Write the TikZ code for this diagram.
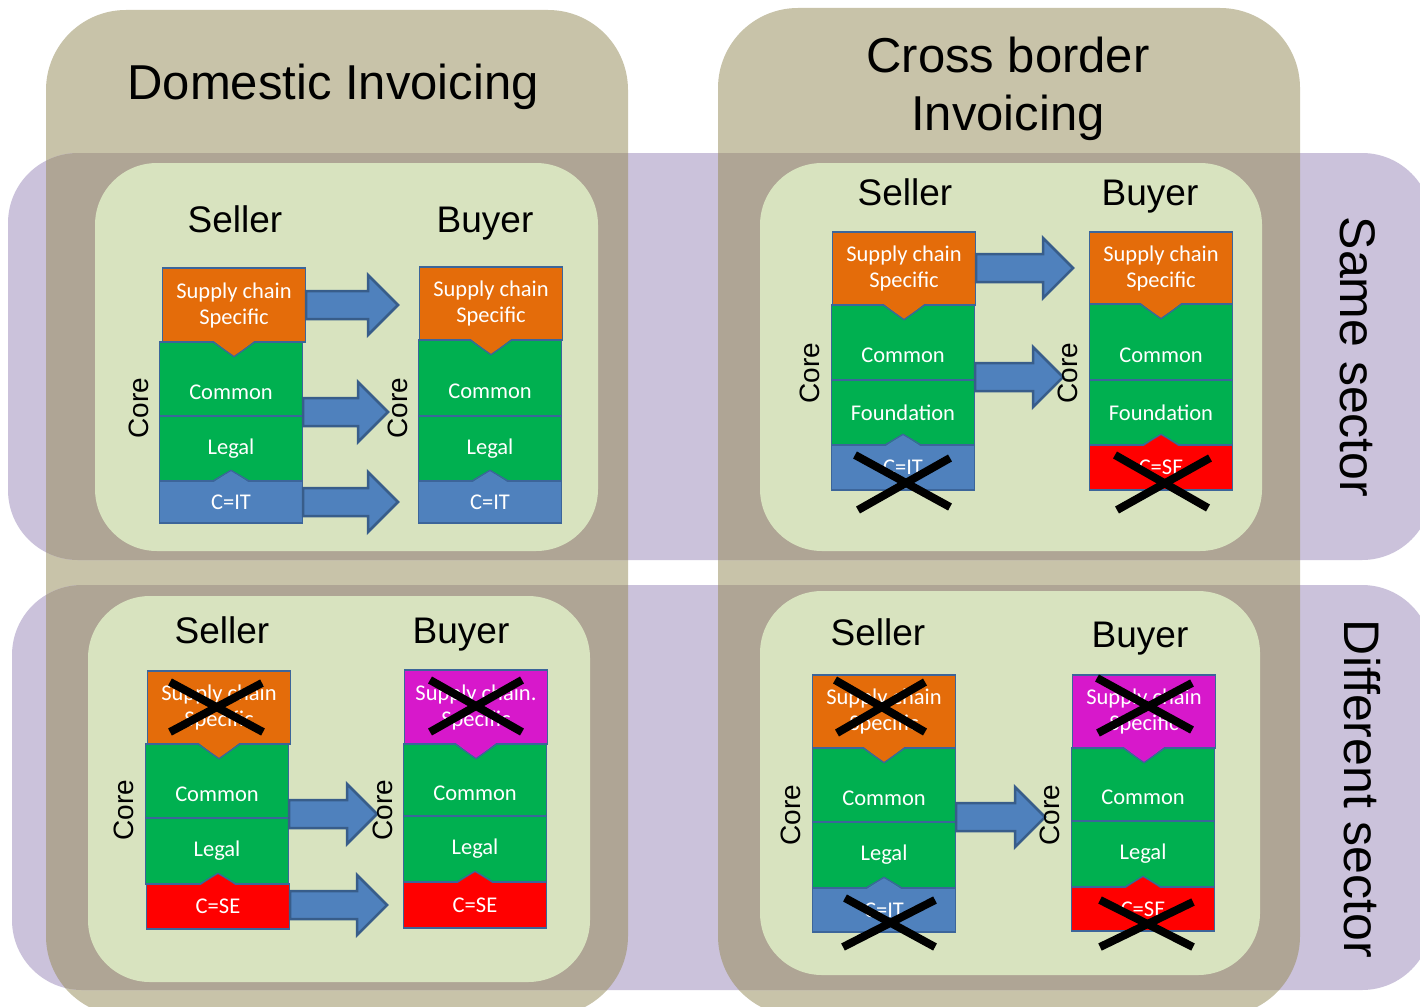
\documentclass[tikz,border=0pt]{standalone}
\usepackage{fontspec}
\setmainfont{Liberation Sans}
\newfontfamily\calib{Carlito}
\usetikzlibrary{calc}
\definecolor{tanC}{HTML}{C8C3A9}
\definecolor{purC}{HTML}{CBC2DB}
\definecolor{ovC}{HTML}{AFA595}
\definecolor{panC}{HTML}{D8E3BF}
\definecolor{orC}{HTML}{E46C0A}
\definecolor{grC}{HTML}{00B050}
\definecolor{blC}{HTML}{4F81BD}
\definecolor{rdC}{HTML}{FF0000}
\definecolor{mgC}{HTML}{D718CB}
\definecolor{bdC}{HTML}{3C659A}
\definecolor{arB}{HTML}{385D8A}
\newcommand\TabDown[2]{%
  \fill[#2] ($(#1.south)+(-20,-1.5)$) -- ($(#1.south)+(0,14)$) -- ($(#1.south)+(20,-1.5)$) -- cycle;
  \draw[bdC,line width=1.3pt] ($(#1.south)+(-20,0)$) -- ($(#1.south)+(0,14)$) -- ($(#1.south)+(20,0)$);}
\newcommand\TabUp[2]{%
  \fill[#2] ($(#1.north)+(-17,1.5)$) -- ($(#1.north)+(0,-10)$) -- ($(#1.north)+(17,1.5)$) -- cycle;
  \draw[bdC,line width=1.3pt] ($(#1.north)+(-17,0)$) -- ($(#1.north)+(0,-10)$) -- ($(#1.north)+(17,0)$);}
\newcommand\BlkArr[2]{%
  \draw[barrow] ($(#1)+(0,-14)$) -- ($(#2)+(-30,-14)$) -- ($(#2)+(-30,-30)$) -- (#2)
     -- ($(#2)+(-30,30)$) -- ($(#2)+(-30,14)$) -- ($(#1)+(0,14)$) -- cycle;}
\newcommand\LowTxt[1]{\raisebox{-13pt}[\height][\depth]{#1}}
\begin{document}
\begin{tikzpicture}[x=1pt,y=-1pt,
  blk/.style={draw=bdC, line width=1.3pt, minimum width=143pt, inner sep=0pt,
    text=white, font=\calib\fontsize{22.5}{26}\selectfont, align=center},
  gbox/.style={blk, fill=grC},
  obox/.style={blk, fill=orC},
  mbox/.style={blk, fill=mgC},
  bbox/.style={blk, fill=blC},
  rbox/.style={blk, fill=rdC},
  role/.style={anchor=base, font=\fontsize{37}{40}\selectfont},
  corelbl/.style={rotate=90, font=\fontsize{28}{30}\selectfont},
  sector/.style={rotate=-90, font=\fontsize{50}{54}\selectfont},
  barrow/.style={draw=arB, fill=blC, line width=2.5pt, line join=miter},
  xline/.style={black, line width=8pt},
  panel/.style={fill=panC, rounded corners=62pt}
]
\useasboundingbox (0,0) rectangle (1420,1006);
\fill[white] (0,0) rectangle (1420,1006);
% background columns and bands
\fill[tanC, rounded corners=80pt] (46,10) rectangle (628,1016);
\fill[tanC, rounded corners=80pt] (718,8) rectangle (1300,1016);
\fill[purC, rounded corners=70pt] (8,153) rectangle (1432,560);
\fill[purC, rounded corners=70pt] (12,585) rectangle (1432,990);
\begin{scope}
  \clip[rounded corners=80pt] (46,10) rectangle (628,1016) (718,8) rectangle (1300,1016);
  \fill[ovC, rounded corners=70pt] (8,153) rectangle (1432,560) (12,585) rectangle (1432,990);
\end{scope}
% inner panels
\fill[panel] (95,163) rectangle (598,551);
\fill[panel] (760,163) rectangle (1262,551);
\fill[panel] (88,596) rectangle (590,982);
\fill[panel] (760,591) rectangle (1260,975);
% titles
\node[anchor=base, font=\fontsize{49}{58}\selectfont] (tdom) at (333,100) {Domestic Invoicing};
\node[font=\fontsize{49}{58}\selectfont, align=center] (tcross) at (1008,89) {Cross border\\Invoicing};
\node[sector] (tsame) at (1358,357) {Same sector};
\node[sector] (tdiff) at (1362,789) {Different sector};
% role labels
\node[role] (tlS) at (235,232) {Seller};
\node[role] (tlB) at (485,232) {Buyer};
\node[role] (trS) at (905,205) {Seller};
\node[role] (trB) at (1150,205) {Buyer};
\node[role] (blS) at (222,643) {Seller};
\node[role] (blB) at (461,643) {Buyer};
\node[role] (brS) at (878,645) {Seller};
\node[role] (brB) at (1140,647) {Buyer};
% ---------- TL panel ----------
\node[gbox, minimum height=74pt] (tlsc) at (231,379) {\LowTxt{Common}};
\node[gbox, minimum height=65pt] (tlsl) at (231,448.5) {Legal};
\node[obox, minimum height=74pt] (tlso) at (234,305) {Supply chain\\Specific};
\node[bbox, minimum height=42pt] (tlsb) at (231,502) {C=IT};
\node[gbox, minimum height=76pt] (tlbc) at (490,378) {\LowTxt{Common}};
\node[gbox, minimum height=65pt] (tlbl) at (490,448.5) {Legal};
\node[obox, minimum height=73pt] (tlbo) at (491,303.5) {Supply chain\\Specific};
\node[bbox, minimum height=42pt] (tlbb) at (490,502) {C=IT};
\TabDown{tlso}{orC}\TabDown{tlbo}{orC}
\TabUp{tlsb}{blC}\TabUp{tlbb}{blC}
\coordinate (tlA1) at (398,305);
\coordinate (tlA2) at (388,412);
\coordinate (tlA3) at (398,502);
\BlkArr{tlso.east |- tlA1}{tlA1}
\BlkArr{tlsc.east |- tlA2}{tlA2}
\BlkArr{tlsb.east |- tlA3}{tlA3}
\node[corelbl] (tlcs) at (139,408) {Core};
\node[corelbl] (tlcb) at (398,408) {Core};
% ---------- TR panel ----------
\node[gbox, minimum height=75pt] (trsc) at (903,342.5) {\LowTxt{Common}};
\node[gbox, minimum height=65pt] (trsf) at (903,412.5) {Foundation};
\node[obox, minimum height=73pt] (trso) at (904,268.5) {Supply chain\\Specific};
\node[bbox, minimum height=45pt] (trsb) at (903,467.5) {C=IT};
\node[gbox, minimum height=76pt] (trbc) at (1161,342) {\LowTxt{Common}};
\node[gbox, minimum height=65pt] (trbf) at (1161,412.5) {Foundation};
\node[obox, minimum height=72pt] (trbo) at (1161,268) {Supply chain\\Specific};
\node[rbox, minimum height=45pt] (trbb) at (1161,467.5) {C=SE};
\TabDown{trso}{orC}\TabDown{trbo}{orC}
\TabUp{trsb}{blC}\TabUp{trbb}{rdC}
\coordinate (trA1) at (1073,268);
\coordinate (trA2) at (1063,377);
\BlkArr{trso.east |- trA1}{trA1}
\BlkArr{trsc.east |- trA2}{trA2}
\node[corelbl] (trcs) at (810,373) {Core};
\node[corelbl] (trcb) at (1068,373) {Core};
\coordinate (trx1a) at (855,455); \coordinate (trx1b) at (950,507);
\coordinate (trx1c) at (858,510); \coordinate (trx1d) at (950,458);
\draw[xline] (trx1a) -- (trx1b); \draw[xline] (trx1c) -- (trx1d);
\coordinate (trx2a) at (1115,455); \coordinate (trx2b) at (1208,508);
\coordinate (trx2c) at (1117,510); \coordinate (trx2d) at (1210,458);
\draw[xline] (trx2a) -- (trx2b); \draw[xline] (trx2c) -- (trx2d);
% ---------- BL panel ----------
\node[gbox, minimum height=74pt] (blsc) at (217,781) {\LowTxt{Common}};
\node[gbox, minimum height=66pt] (blsl) at (217,851) {Legal};
\node[obox, minimum height=73pt] (blso) at (219,707.5) {Supply chain\\Specific};
\node[rbox, minimum height=45pt] (blsb) at (218,906.5) {C=SE};
\node[gbox, minimum height=72pt] (blbc) at (475,780) {\LowTxt{Common}};
\node[gbox, minimum height=66pt] (blbl) at (475,849) {Legal};
\node[mbox, minimum height=74pt] (blbo) at (476,707) {Supply chain.\\Specific};
\node[rbox, minimum height=46pt] (blbb) at (475,905) {C=SE};
\TabDown{blso}{orC}\TabDown{blbo}{mgC}
\TabUp{blsb}{rdC}\TabUp{blbb}{rdC}
\coordinate (blA1) at (377,814);
\coordinate (blA2) at (387,905);
\BlkArr{blsc.east |- blA1}{blA1}
\BlkArr{blsb.east |- blA2}{blA2}
\node[corelbl] (blcs) at (124,810) {Core};
\node[corelbl] (blcb) at (383,810) {Core};
\coordinate (blx1a) at (170,682); \coordinate (blx1b) at (263,732);
\coordinate (blx1c) at (170,732); \coordinate (blx1d) at (262,683);
\draw[xline] (blx1a) -- (blx1b); \draw[xline] (blx1c) -- (blx1d);
\coordinate (blx2a) at (430,680); \coordinate (blx2b) at (522,732);
\coordinate (blx2c) at (430,732); \coordinate (blx2d) at (522,680);
\draw[xline] (blx2a) -- (blx2b); \draw[xline] (blx2c) -- (blx2d);
% ---------- BR panel ----------
\node[gbox, minimum height=74pt] (brsc) at (884,785) {\LowTxt{Common}};
\node[gbox, minimum height=66pt] (brsl) at (884,855) {Legal};
\node[obox, minimum height=73pt] (brso) at (884,711.5) {Supply chain\\Specific};
\node[bbox, minimum height=44pt] (brsb) at (884,910) {C=IT};
\node[gbox, minimum height=73pt] (brbc) at (1143,784.5) {\LowTxt{Common}};
\node[gbox, minimum height=66pt] (brbl) at (1143,854) {Legal};
\node[mbox, minimum height=73pt] (brbo) at (1144,711.5) {Supply chain\\Specific};
\node[rbox, minimum height=44pt] (brbb) at (1143,909) {C=SE};
\TabDown{brso}{orC}\TabDown{brbo}{mgC}
\TabUp{brsb}{blC}\TabUp{brbb}{rdC}
\coordinate (brA1) at (1045,817);
\BlkArr{brsc.east |- brA1}{brA1}
\node[corelbl] (brcs) at (791,815) {Core};
\node[corelbl] (brcb) at (1050,815) {Core};
\coordinate (brx1a) at (835,680); \coordinate (brx1b) at (925,732);
\coordinate (brx1c) at (837,733); \coordinate (brx1d) at (925,682);
\draw[xline] (brx1a) -- (brx1b); \draw[xline] (brx1c) -- (brx1d);
\coordinate (brx2a) at (845,898); \coordinate (brx2b) at (935,947);
\coordinate (brx2c) at (843,947); \coordinate (brx2d) at (935,900);
\draw[xline] (brx2a) -- (brx2b); \draw[xline] (brx2c) -- (brx2d);
\coordinate (brx3a) at (1097,678); \coordinate (brx3b) at (1192,730);
\coordinate (brx3c) at (1098,733); \coordinate (brx3d) at (1192,683);
\draw[xline] (brx3a) -- (brx3b); \draw[xline] (brx3c) -- (brx3d);
\coordinate (brx4a) at (1100,900); \coordinate (brx4b) at (1193,947);
\coordinate (brx4c) at (1100,947); \coordinate (brx4d) at (1193,902);
\draw[xline] (brx4a) -- (brx4b); \draw[xline] (brx4c) -- (brx4d);
\end{tikzpicture}
\end{document}
